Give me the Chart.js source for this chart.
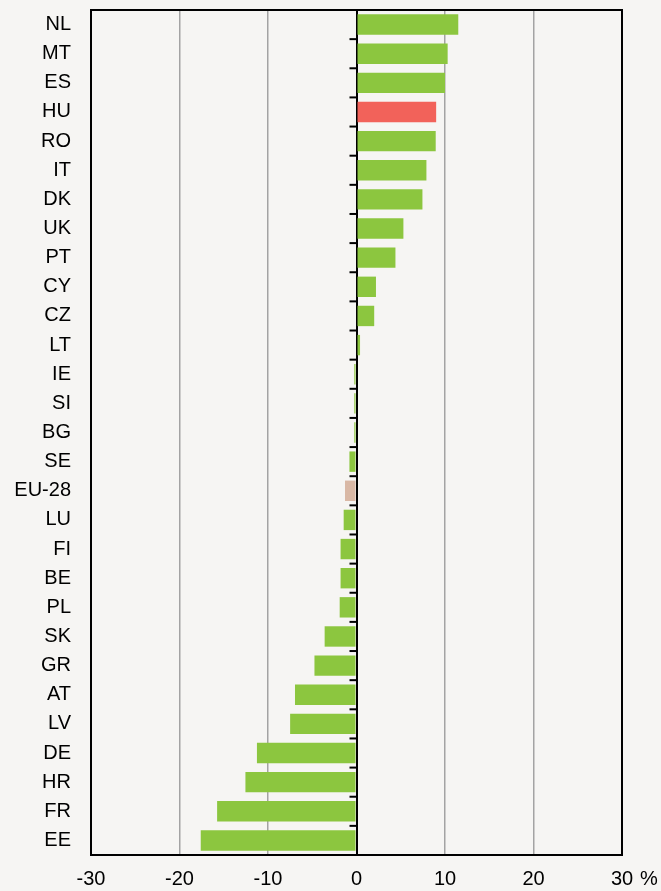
<html>
  <head>
    <script src="https://cdn.jsdelivr.net/npm/chart.js@4.4.0/dist/chart.umd.min.js"></script>
    <style>
      body { margin: 0; background: #f6f5f3; }
    </style>
  </head>
  <body>
    <canvas id="barChart" width="661" height="891"></canvas>
    <script>
      var countries = ["NL", "MT", "ES", "HU", "RO", "IT", "DK", "UK", "PT", "CY", "CZ", "LT", "IE", "SI", "BG", "SE", "EU-28", "LU", "FI", "BE", "PL", "SK", "GR", "AT", "LV", "DE", "HR", "FR", "EE"];
      var values = [11.5, 10.3, 10.0, 9.0, 8.95, 7.9, 7.45, 5.3, 4.4, 2.2, 2.0, 0.4, -0.25, -0.25, -0.25, -0.8, -1.3, -1.45, -1.8, -1.8, -1.9, -3.6, -4.75, -6.95, -7.5, -11.25, -12.55, -15.75, -17.6];
      var xTicks = [-30, -20, -10, 0, 10, 20, 30];

      var colors = {
        green: "#8cc63f",
        red: "#f2625a",
        tan: "#d9b8a5",
        grid: "#a3a3a3",
        bg: "#f6f5f3",
      };

      var barColors = countries.map((c) =>
        c === "HU" ? colors.red : c === "EU-28" ? colors.tan : colors.green
      );

      // background, frame, category ticks on the zero line and the % sign
      var decorations = {
        id: "decorations",
        beforeDraw(chart) {
          var ctx = chart.ctx;
          ctx.save();
          ctx.fillStyle = colors.bg;
          ctx.fillRect(0, 0, chart.width, chart.height);
          ctx.restore();
        },
        afterDraw(chart) {
          var ctx = chart.ctx;
          var area = chart.chartArea;
          var x = chart.scales.x;
          var y = chart.scales.y;
          var x0 = x.getPixelForValue(0);
          ctx.save();
          ctx.strokeStyle = "#000";
          ctx.lineWidth = 2;
          for (var i = 1; i < countries.length; i++) {
            var yy = (y.getPixelForTick(i - 1) + y.getPixelForTick(i)) / 2;
            ctx.beginPath();
            ctx.moveTo(x0 - 7, yy);
            ctx.lineTo(x0, yy);
            ctx.stroke();
          }
          ctx.strokeRect(area.left, area.top, area.right - area.left, area.bottom - area.top);
          ctx.fillStyle = "#000";
          ctx.font = "20px 'Liberation Sans', Arial, sans-serif";
          ctx.textAlign = "left";
          ctx.textBaseline = "middle";
          ctx.fillText("%", x.getPixelForValue(30) + 18, area.bottom + 24);
          ctx.restore();
        },
      };

      var ctx = document.getElementById("barChart").getContext("2d");
      var myChart = new Chart(ctx, {
        type: "bar",
        data: {
          labels: countries,
          datasets: [
            {
              data: values,
              backgroundColor: barColors,
              borderWidth: 0,
              barPercentage: 0.7,
              categoryPercentage: 1,
            },
          ],
        },
        options: {
          indexAxis: "y",
          responsive: false,
          animation: false,
          layout: { padding: { top: 10, right: 39, bottom: 0, left: 0 } },
          plugins: {
            legend: { display: false },
            tooltip: { enabled: false },
          },
          scales: {
            x: {
              min: -30,
              max: 30,
              afterBuildTicks: (scale) => {
                scale.ticks = xTicks.map((v) => ({ value: v }));
              },
              afterFit: (scale) => {
                scale.height = 36;
                scale.paddingLeft = 0;
                scale.paddingRight = 0;
              },
              border: { display: false },
              grid: {
                drawTicks: false,
                color: (c) =>
                  c.tick.value === 0
                    ? "#000"
                    : Math.abs(c.tick.value) === 30
                    ? "rgba(0,0,0,0)"
                    : colors.grid,
                lineWidth: (c) => (c.tick.value === 0 ? 2 : 1.5),
              },
              ticks: {
                padding: 12,
                color: "#000",
                maxRotation: 0,
                font: { family: "'Liberation Sans', Arial, sans-serif", size: 20 },
              },
            },
            y: {
              afterFit: (scale) => {
                scale.width = 91;
                scale.paddingTop = 0;
                scale.paddingBottom = 0;
              },
              border: { display: false },
              grid: { display: false, drawTicks: false },
              ticks: {
                padding: 20,
                color: "#000",
                autoSkip: false,
                font: { family: "'Liberation Sans', Arial, sans-serif", size: 20 },
              },
            },
          },
        },
        plugins: [decorations],
      });
    </script>
  </body>
</html>
